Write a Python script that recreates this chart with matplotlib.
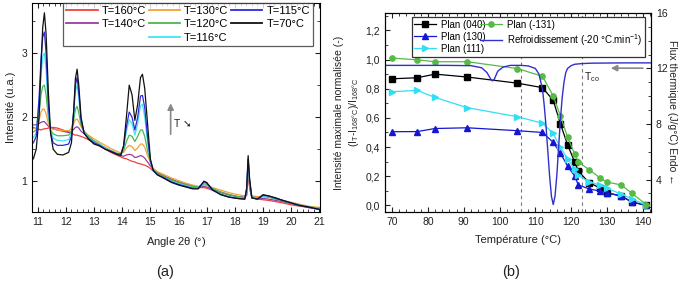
import numpy as np
import matplotlib
matplotlib.use("Agg")
import matplotlib.pyplot as plt
from matplotlib.ticker import MultipleLocator, FuncFormatter

plt.rcParams['font.family'] = ['Liberation Sans', 'DejaVu Sans']
plt.rcParams['font.size'] = 7.5
plt.rcParams['mathtext.default'] = 'regular'

# ---- (a) diffractogrammes ----
angle = [10.85, 10.95, 11.05, 11.12, 11.18, 11.24, 11.3, 11.38, 11.46, 11.55,
         11.7, 11.9, 12.1, 12.2, 12.28, 12.34, 12.4, 12.46, 12.54, 12.65,
         12.8, 13.0, 13.2, 13.4, 13.6, 13.8, 13.95, 14.05, 14.15, 14.25,
         14.35, 14.45, 14.55, 14.65, 14.72, 14.8, 14.9, 15.0, 15.1, 15.25,
         15.5, 15.75, 16.0, 16.25, 16.5, 16.7, 16.9, 17.0, 17.2, 17.5,
         17.8, 18.1, 18.35, 18.42, 18.47, 18.52, 18.6, 18.8, 19.0, 19.2,
         19.45, 19.7, 20.0, 20.3, 20.6, 21.0]

i_160 = [1.84, 1.82, 1.81, 1.8, 1.81, 1.82, 1.82, 1.83, 1.84, 1.84,
         1.83, 1.8, 1.77, 1.75, 1.73, 1.72, 1.72, 1.71, 1.7, 1.68,
         1.65, 1.6, 1.55, 1.5, 1.45, 1.41, 1.38, 1.36, 1.35, 1.33,
         1.31, 1.3, 1.28, 1.27, 1.26, 1.25, 1.23, 1.2, 1.16, 1.12,
         1.07, 1.02, 0.98, 0.95, 0.92, 0.9, 0.9, 0.89, 0.86, 0.82,
         0.78, 0.75, 0.74, 0.78, 1.15, 0.9, 0.74, 0.72, 0.71, 0.7,
         0.68, 0.66, 0.63, 0.61, 0.59, 0.56]
i_140 = [1.88, 1.88, 1.9, 1.92, 1.93, 1.93, 1.9, 1.86, 1.83, 1.82,
         1.8, 1.78, 1.76, 1.77, 1.81, 1.84, 1.85, 1.83, 1.78, 1.74,
         1.68, 1.62, 1.57, 1.52, 1.47, 1.43, 1.4, 1.39, 1.41, 1.42,
         1.41, 1.37, 1.38, 1.4, 1.39, 1.36, 1.3, 1.24, 1.18, 1.13,
         1.08, 1.03, 0.99, 0.95, 0.92, 0.9, 0.92, 0.91, 0.87, 0.83,
         0.79, 0.76, 0.75, 0.8, 1.2, 0.92, 0.75, 0.73, 0.73, 0.72,
         0.7, 0.68, 0.65, 0.62, 0.6, 0.57]
i_130 = [1.82, 1.83, 1.95, 2.08, 2.13, 2.12, 2.05, 1.9, 1.83, 1.81,
         1.8, 1.79, 1.79, 1.82, 1.9, 1.96, 1.97, 1.93, 1.85, 1.78,
         1.72, 1.66, 1.61, 1.56, 1.51, 1.47, 1.44, 1.45, 1.52, 1.56,
         1.54, 1.48, 1.52, 1.58, 1.58, 1.53, 1.4, 1.3, 1.2, 1.15,
         1.1, 1.05, 1.01, 0.97, 0.94, 0.92, 0.94, 0.93, 0.9, 0.86,
         0.82, 0.79, 0.77, 0.83, 1.25, 0.95, 0.77, 0.76, 0.76, 0.75,
         0.73, 0.7, 0.67, 0.64, 0.61, 0.59]
i_120 = [1.77, 1.8, 2.05, 2.35, 2.48, 2.5, 2.35, 2.0, 1.8, 1.74,
         1.71, 1.71, 1.72, 1.78, 1.95, 2.12, 2.17, 2.07, 1.88, 1.77,
         1.7, 1.63, 1.58, 1.52, 1.48, 1.44, 1.42, 1.48, 1.62, 1.72,
         1.7, 1.62, 1.7, 1.8, 1.8, 1.7, 1.48, 1.3, 1.18, 1.12,
         1.07, 1.02, 0.98, 0.95, 0.92, 0.91, 0.96, 0.95, 0.89, 0.83,
         0.79, 0.76, 0.74, 0.85, 1.3, 0.98, 0.76, 0.74, 0.76, 0.75,
         0.72, 0.69, 0.66, 0.63, 0.6, 0.58]
i_116 = [1.68, 1.75, 2.2, 2.65, 2.95, 3.0, 2.75, 2.1, 1.8, 1.67,
         1.64, 1.63, 1.65, 1.75, 2.05, 2.4, 2.5, 2.3, 1.95, 1.76,
         1.68, 1.61, 1.57, 1.51, 1.47, 1.43, 1.42, 1.52, 1.78, 1.96,
         1.9, 1.72, 1.9, 2.18, 2.2, 2.0, 1.62, 1.3, 1.16, 1.1,
         1.05, 1.0, 0.96, 0.93, 0.9, 0.9, 0.97, 0.96, 0.87, 0.8,
         0.76, 0.74, 0.73, 0.88, 1.33, 1.0, 0.75, 0.73, 0.77, 0.76,
         0.73, 0.7, 0.66, 0.62, 0.6, 0.57]
i_115 = [1.6, 1.7, 2.3, 2.9, 3.25, 3.33, 3.0, 2.2, 1.75, 1.6,
         1.56, 1.56, 1.58, 1.7, 2.1, 2.5, 2.62, 2.4, 1.95, 1.75,
         1.67, 1.6, 1.56, 1.5, 1.47, 1.43, 1.42, 1.55, 1.85, 2.08,
         2.0, 1.8, 2.0, 2.33, 2.34, 2.15, 1.7, 1.32, 1.17, 1.1,
         1.05, 0.99, 0.95, 0.92, 0.89, 0.89, 0.99, 0.97, 0.86, 0.79,
         0.75, 0.73, 0.72, 0.88, 1.35, 1.02, 0.74, 0.72, 0.78, 0.77,
         0.73, 0.7, 0.66, 0.62, 0.59, 0.56]
i_70 = [1.35, 1.5, 2.0, 2.8, 3.4, 3.63, 3.3, 2.4, 1.75, 1.5,
        1.42, 1.41, 1.45, 1.6, 2.1, 2.6, 2.75, 2.5, 2.0, 1.75,
        1.66, 1.58, 1.55, 1.5, 1.46, 1.42, 1.4, 1.55, 2.0, 2.5,
        2.35, 1.95, 2.2, 2.62, 2.67, 2.45, 1.9, 1.35, 1.17, 1.1,
        1.04, 0.98, 0.94, 0.91, 0.88, 0.88, 1.0, 0.98, 0.87, 0.79,
        0.75, 0.73, 0.72, 0.9, 1.4, 1.05, 0.74, 0.72, 0.79, 0.77,
        0.74, 0.7, 0.66, 0.62, 0.6, 0.56]

courbes = [
    ('T=160°C', i_160, '#f0403c'),
    ('T=140°C', i_140, '#9b3c9b'),
    ('T=130°C', i_130, '#f5a035'),
    ('T=120°C', i_120, '#4cb84c'),
    ('T=116°C', i_116, '#40e4f4'),
    ('T=115°C', i_115, '#2a2ae0'),
    ('T=70°C', i_70, '#111111'),
]

# ---- (b) intensites normalisees ----
temp = [70, 77, 82, 91, 105, 112, 115, 117, 119, 121, 122, 125, 128, 130, 134, 137, 141]
plan_040 = [0.868, 0.875, 0.9, 0.88, 0.838, 0.807, 0.72, 0.56, 0.415, 0.297, 0.235, 0.156, 0.12, 0.085, 0.064, 0.022, 0.0]
plan_131 = [1.01, 0.998, 0.985, 0.985, 0.938, 0.885, 0.75, 0.615, 0.468, 0.352, 0.298, 0.245, 0.19, 0.16, 0.14, 0.082, 0.005]
plan_130 = [0.505, 0.506, 0.527, 0.532, 0.512, 0.5, 0.432, 0.357, 0.27, 0.2, 0.14, 0.113, 0.098, 0.087, 0.064, 0.023, 0.0]
plan_111 = [0.78, 0.788, 0.74, 0.67, 0.608, 0.563, 0.493, 0.397, 0.32, 0.247, 0.205, 0.16, 0.14, 0.117, 0.077, 0.045, 0.0]

# flux DSC au refroidissement
dsc_T = [68, 75, 85, 92, 95, 96.5, 97.5, 98, 98.5, 99.5,
         101, 103, 106, 108, 110, 111, 112, 112.5, 113, 113.5,
         114, 114.5, 115, 115.5, 116, 116.5, 117, 117.5, 118, 118.5,
         119, 120, 121, 123, 126, 135, 142.5]
dsc_flux = [12.22, 12.22, 12.22, 12.2, 12.05, 11.7, 11.25, 11.1, 11.2, 11.8,
            12.1, 12.22, 12.22, 12.18, 12.0, 11.6, 10.5, 9.3, 7.8, 6.0,
            4.2, 2.8, 2.2, 2.8, 4.3, 6.3, 8.3, 9.9, 11.0, 11.7,
            12.0, 12.2, 12.3, 12.35, 12.38, 12.4, 12.4]

fig = plt.figure(figsize=(6.81, 2.86), dpi=100)
txt = '#222222'

# ---------- panneau (a) ----------
ax1 = fig.add_axes([0.0474, 0.259, 0.4225, 0.732])
for lab, y, c in courbes:
    ax1.plot(angle, y, color=c, lw=0.9, label=lab)
ax1.set_xlim(10.81, 21.02)
ax1.set_ylim(0.52, 3.79)
ax1.xaxis.set_major_locator(MultipleLocator(1))
ax1.xaxis.set_minor_locator(MultipleLocator(0.2))
ax1.yaxis.set_major_locator(MultipleLocator(1))
ax1.yaxis.set_minor_locator(MultipleLocator(0.5))
ax1.tick_params(which='both', direction='in', top=True, right=True, colors=txt)
ax1.tick_params(which='major', length=3.5)
ax1.tick_params(which='minor', length=2)
ax1.set_xlabel('Angle 2$\\theta$ (°)', fontsize=8, color=txt, labelpad=6)
ax1.set_ylabel('Intensité (u.a.)', fontsize=8, color=txt, labelpad=4)

ax1.annotate('', xy=(15.72, 2.26), xytext=(15.72, 1.69),
             arrowprops=dict(arrowstyle='-|>', color='#888888', lw=1.2,
                             mutation_scale=9))
ax1.text(15.85, 1.9, 'T ➘', fontsize=7.5, color=txt, va='center')

h, l = ax1.get_legend_handles_labels()
blank = plt.Line2D([], [], color='none')
ordre = [h[0], h[1], blank, h[2], h[3], h[4], h[5], h[6]]
noms = [l[0], l[1], '', l[2], l[3], l[4], l[5], l[6]]
leg1 = ax1.legend(ordre, noms, ncol=3, loc='upper left',
                  bbox_to_anchor=(0.107, 0.80, 0.869, 0.20), mode='expand',
                  borderaxespad=0, fancybox=False, edgecolor='#333333',
                  fontsize=8, handlelength=2.8, labelspacing=0.3,
                  borderpad=0.3, columnspacing=1.0, handletextpad=0.4)
leg1.get_frame().set_linewidth(0.9)
for ln in leg1.get_lines():
    ln.set_linewidth(1.3)

# ---------- panneau (b) ----------
ax2 = fig.add_axes([0.5653, 0.259, 0.3906, 0.696])
ax2.axvline(106, color='#777777', ls=(0, (3, 3)), lw=0.8)
ax2.axvline(123, color='#777777', ls=(0, (3, 3)), lw=0.8)
l040, = ax2.plot(temp, plan_040, color='black', marker='s', ms=3.8, lw=0.9, label='Plan (040)')
l130, = ax2.plot(temp, plan_130, color='#1515d5', marker='^', ms=4.2, lw=0.9, label='Plan (130)')
l111, = ax2.plot(temp, plan_111, color='#30dff5', marker='>', ms=4.2, lw=0.9, label='Plan (111)')
l131, = ax2.plot(temp, plan_131, color='#55bb45', marker='o', ms=3.8, lw=0.9, label='Plan (-131)')
ax2.set_xlim(68, 142.3)
ax2.set_ylim(-0.045, 1.32)
ax2.xaxis.set_major_locator(MultipleLocator(10))
ax2.xaxis.set_minor_locator(MultipleLocator(2))
ax2.yaxis.set_major_locator(MultipleLocator(0.2))
ax2.yaxis.set_minor_locator(MultipleLocator(0.1))
ax2.yaxis.set_major_formatter(FuncFormatter(lambda v, p: f'{v:.1f}'.replace('.', ',')))
ax2.tick_params(which='both', direction='in', top=True, right=False, colors=txt)
ax2.tick_params(which='major', length=3.5)
ax2.tick_params(which='minor', length=2)
ax2.set_xlabel('Température (°C)', fontsize=8, color=txt, labelpad=6)
ax2.set_ylabel('Intensité maximale normalisée (-)\n(I$_{T}$-I$_{168°C}$)/I$_{168°C}$',
               fontsize=7.5, color=txt, labelpad=3, linespacing=1.3)

ax3 = ax2.twinx()
ldsc, = ax3.plot(dsc_T, dsc_flux, color='#3030cc', lw=1.0,
                 label='Refroidissement (-20 °C.min$^{-1}$)')
ax3.set_ylim(1.67, 16)
ax3.yaxis.set_major_locator(MultipleLocator(4))
ax3.yaxis.set_minor_locator(MultipleLocator(1))
ax3.tick_params(which='both', direction='in', colors=txt)
ax3.tick_params(which='major', length=3.5)
ax3.tick_params(which='minor', length=2)
ax3.set_ylabel('Flux thermique (J/g°C) Endo ←', rotation=270, fontsize=7.5,
               color=txt, va='center', ha='center')
ax3.yaxis.set_label_coords(1.08, 0.5)
ax3.annotate('', xy=(130.3, 12.02), xytext=(140.8, 12.02),
             arrowprops=dict(arrowstyle='-|>', color='#888888', lw=1.2,
                             mutation_scale=9))
ax3.text(123.6, 11.4, 'T$_{co}$', fontsize=7.5, color=txt, va='center')

leg2 = ax3.legend([l040, l130, l111, l131, ldsc],
                  ['Plan (040)', 'Plan (130)', 'Plan (111)', 'Plan (-131)',
                   'Refroidissement (-20 °C.min$^{-1}$)'],
                  ncol=2, loc='upper left', bbox_to_anchor=(0.1, 0.80, 0.877, 0.18),
                  mode='expand', borderaxespad=0, fancybox=False,
                  edgecolor='#333333', fontsize=7, handlelength=2.2,
                  labelspacing=0.2, borderpad=0.3, columnspacing=0.8,
                  handletextpad=0.5, framealpha=1)
leg2.get_frame().set_linewidth(0.9)

fig.text(0.242, 0.035, '(a)', fontsize=10.5, color=txt, ha='center')
fig.text(0.750, 0.035, '(b)', fontsize=10.5, color=txt, ha='center')

fig.savefig('out.png', dpi=100)
